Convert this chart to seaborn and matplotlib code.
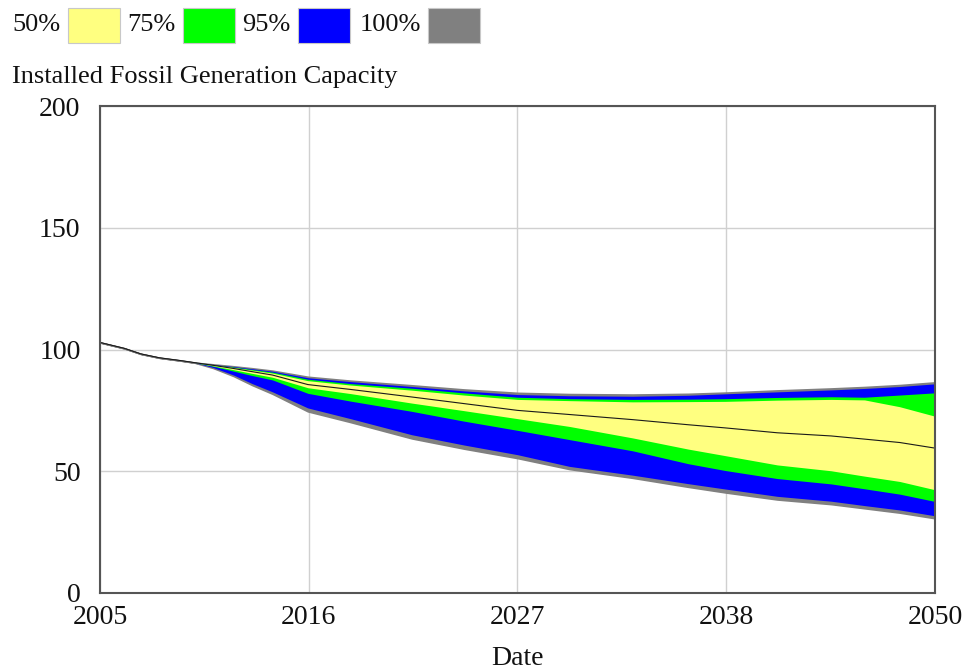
import pandas as pd
import seaborn as sns
import matplotlib.pyplot as plt
from matplotlib.patches import Rectangle

# values (sensitivity run percentiles)
years = [2005, 2006.3, 2007.2, 2008.2, 2009.3, 2010.1, 2011.1, 2012.2, 2013.2, 2014.3,
         2016.2, 2018.5, 2021.8, 2024.6, 2027.5, 2030.3, 2033.7, 2036.7, 2038.7,
         2041.5, 2044.4, 2046.2, 2048.1, 2050]
p_max = [102.9, 100.5, 98.2, 96.6, 95.5, 94.6, 93.9, 93.1, 92.3, 91.3, 88.8, 87.2,
         85.3, 83.6, 82.2, 81.7, 81.5, 81.8, 82.3, 83.2, 84.0, 84.6, 85.4, 86.5]
p975 = [102.9, 100.5, 98.2, 96.6, 95.5, 94.6, 93.8, 93.0, 92.1, 91.1, 88.4, 86.8,
        84.8, 83.0, 81.5, 81.0, 80.8, 81.2, 81.8, 82.6, 83.4, 84.0, 84.8, 85.9]
p875 = [102.9, 100.5, 98.2, 96.6, 95.5, 94.6, 93.7, 92.8, 91.8, 90.7, 87.8, 86.0,
        84.1, 82.2, 80.4, 79.8, 79.5, 79.6, 79.8, 80.3, 80.6, 80.4, 81.3, 82.2]
p75 = [102.9, 100.5, 98.2, 96.6, 95.5, 94.6, 93.6, 92.6, 91.5, 90.3, 87.2, 85.4,
       83.3, 81.3, 79.5, 79.0, 78.5, 78.6, 78.7, 79.2, 79.5, 79.3, 76.5, 72.6]
p50 = [102.9, 100.5, 98.2, 96.6, 95.5, 94.6, 93.5, 92.2, 90.9, 89.5, 85.6, 83.6,
       80.5, 77.8, 75.0, 73.3, 71.2, 69.1, 67.8, 65.8, 64.5, 63.2, 61.8, 59.5]
p25 = [102.9, 100.5, 98.2, 96.6, 95.5, 94.6, 93.3, 91.7, 90.2, 88.6, 84.3, 81.9,
       78.0, 74.9, 71.6, 68.4, 63.7, 59.1, 56.4, 52.6, 50.2, 48.0, 45.8, 42.4]
p125 = [102.9, 100.5, 98.2, 96.6, 95.5, 94.6, 93.1, 91.1, 89.3, 87.5, 82.0, 78.8,
        74.6, 70.6, 66.8, 63.0, 58.4, 53.1, 50.3, 47.0, 44.8, 42.8, 40.6, 37.6]
p025 = [102.9, 100.5, 98.2, 96.6, 95.5, 94.6, 92.6, 89.5, 86.0, 82.6, 76.0, 71.6,
        65.0, 60.8, 56.8, 52.0, 48.4, 44.9, 42.7, 39.7, 37.7, 35.9, 34.1, 31.7]
p_min = [102.9, 100.5, 98.2, 96.6, 95.5, 94.6, 92.4, 89.1, 85.4, 81.8, 74.6, 70.2,
         63.5, 59.3, 55.4, 50.9, 47.3, 43.6, 41.3, 38.4, 36.5, 34.8, 33.0, 30.7]

band_labels = ["50%", "75%", "95%", "100%"]
band_colors = ["#FFFF80", "#00FF00", "#0000FF", "#808080"]
# Vensim splits the run into four equal steps and prints whole years
x_ticks = [2005, 2016.25, 2027.5, 2038.75, 2050]
x_tick_labels = ["2005", "2016", "2027", "2038", "2050"]
y_ticks = [0, 50, 100, 150, 200]

df = pd.DataFrame({"Date": years, "median": p50})

sns.set_theme(style="white")
plt.rcParams["font.family"] = ["Liberation Serif", "DejaVu Serif"]

W, H = 971, 671
fig = plt.figure(figsize=(W / 100, H / 100), dpi=100)
ax = fig.add_axes([100 / W, 1 - 593 / H, 835 / W, 487 / H])

bands = [(p_min, p_max), (p025, p975), (p125, p875), (p25, p75)]
for (lo, hi), col in zip(bands, band_colors[::-1]):
    ax.fill_between(years, lo, hi, color=col, lw=1.2 if col == "#808080" else 0,
                    edgecolor=col)

sns.lineplot(data=df, x="Date", y="median", ax=ax, color="#1a1a1a", lw=0.8)

ax.set_xlim(2005, 2050)
ax.set_ylim(0, 200)
ax.set_xticks(x_ticks)
ax.set_xticklabels(x_tick_labels)
ax.set_yticks(y_ticks)
ax.grid(True, color="#d0d0d0", lw=1)
ax.set_axisbelow(True)
for s in ax.spines.values():
    s.set_color("#555555")
    s.set_linewidth(1.5)
ax.tick_params(axis="x", length=0, pad=9, labelsize=20, colors="#111111")
ax.tick_params(axis="y", length=0, pad=14, labelsize=20, colors="#111111")
ax.set_xlabel("")
ax.set_ylabel("")

# legend row across the top, Vensim style: label then swatch
lab_x = [12, 127, 242, 360]
box_x = [68, 183, 298, 428]
for lab, col, tx, bx in zip(band_labels, band_colors, lab_x, box_x):
    fig.text(tx / W, 1 - 25 / H, lab, fontsize=19, va="center", ha="left",
             color="#111111")
    fig.patches.append(Rectangle((bx / W, 1 - 43 / H), 52 / W, 35 / H,
                                 transform=fig.transFigure, facecolor=col,
                                 edgecolor="#c8c8c8", lw=0.8))

fig.text(12 / W, 1 - 83 / H, "Installed Fossil Generation Capacity",
         fontsize=19, va="baseline", ha="left", color="#111111")
fig.text(517 / W, 1 - 665 / H, "Date", fontsize=20, va="baseline",
         ha="center", color="#111111")

fig.savefig("out.png", dpi=100)
